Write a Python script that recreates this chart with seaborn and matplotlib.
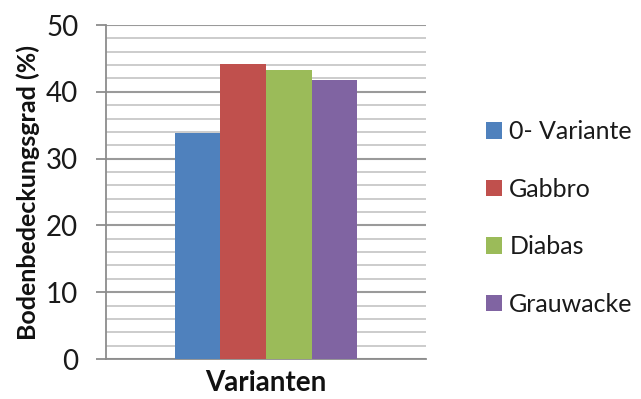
import matplotlib
matplotlib.use("Agg")
import matplotlib.pyplot as plt
from matplotlib.ticker import MultipleLocator
import seaborn as sns
import pandas as pd

# Ground cover per variant
variants = ["0- Variante", "Gabbro", "Diabas", "Grauwacke"]
cover = [33.8, 44.1, 43.2, 41.7]
colors = ["#4F81BD", "#C0504D", "#9BBB59", "#8064A2"]

df = pd.DataFrame({"group": [""] * len(variants), "Variante": variants, "cover": cover})

sns.set_theme(style="white")
plt.rcParams["font.family"] = ["Lato", "DejaVu Sans"]

fig = plt.figure(figsize=(6.41, 3.99), dpi=100)
ax = fig.add_axes([106 / 641, 1 - 359 / 399, 320 / 641, 334 / 399])

sns.barplot(data=df, x="group", y="cover", hue="Variante", hue_order=variants,
            palette=colors, width=0.57, saturation=1, ax=ax, zorder=3,
            edgecolor="none", linewidth=0, legend=True)

ax.set_xlim(-0.5, 0.5)
ax.set_ylim(0, 50)
ax.yaxis.set_major_locator(MultipleLocator(10))
ax.yaxis.set_minor_locator(MultipleLocator(2))
ax.grid(axis="y", which="minor", color="#c4c4c4", linewidth=1.2, zorder=0)
ax.grid(axis="y", which="major", color="#9a9a9a", linewidth=1.5, zorder=0)
ax.set_axisbelow(True)

for s in ["top", "right"]:
    ax.spines[s].set_visible(False)
for s in ["left", "bottom"]:
    ax.spines[s].set_color("#8c8c8c")
    ax.spines[s].set_linewidth(1.3)

ax.tick_params(axis="y", which="major", left=True, length=7, width=1.3,
               color="#8c8c8c", labelsize=20, pad=13, labelcolor="#1a1a1a")
ax.tick_params(axis="y", which="minor", left=False)
ax.tick_params(axis="x", bottom=False, labelbottom=False)

ax.set_xlabel("Varianten", fontsize=20, fontweight="bold", labelpad=8, color="#111111")
ax.set_ylabel("Bodenbedeckungsgrad (%)", fontsize=18, fontweight="bold", labelpad=4, color="#111111")

leg = ax.legend(loc="center left", bbox_to_anchor=(370 / 320, 0.5 - 26 / 334),
                frameon=False, fontsize=18, handlelength=0.65, handleheight=0.65,
                handletextpad=0.28, labelspacing=1.38, borderaxespad=0)
for t in leg.get_texts():
    t.set_color("#1a1a1a")

fig.savefig("out.png", dpi=100)
